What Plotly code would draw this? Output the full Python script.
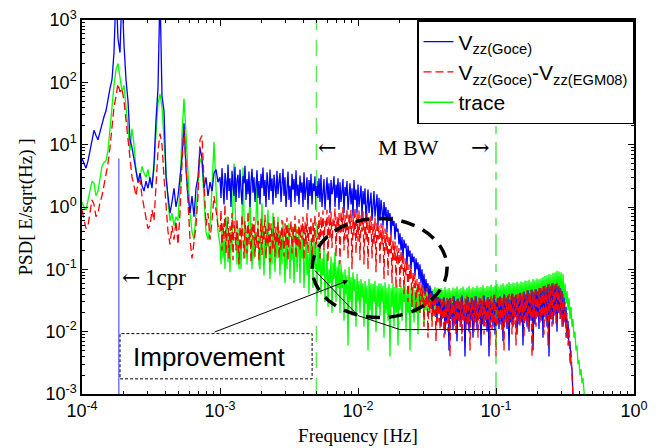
import numpy as np
import plotly.graph_objects as go

# ---------------- data (PSD samples) ----------------
# spectrum sampling: coarse bins below 1 mHz, fine bins above
LOW_START, LOW_BINS_PER_DECADE = 1e-4, 69
HIGH_START, HIGH_BINS_PER_DECADE = 1e-3, 138

# ---- V_zz(Goce) ----
vzz_goce_low = [
    6, 5, 4.2, 5.5, 8, 13, 17, 14, 12, 16,
    22, 28, 35, 55, 80, 110, 300, 3000, 500, 300,
    3000, 400, 110, 50, 12, 9, 6, 4, 2.5, 3.5,
    2.2, 1.8, 2.6, 2.0, 3, 2, 5, 25, 80, 3000,
    60, 35, 3, 1.5, 0.8, 1.2, 2, 1.0, 1.5, 3,
    6, 22, 4, 1.5, 0.8, 1.5, 0.7, 2, 3, 9,
    6, 2, 3, 1.5, 2.5, 1.8, 3.5, 4, 2.5,
]
vzz_goce_high = [
    3.0, 1.4, 4.2, 2.1, 1.1, 3.5, 2.6, 1.3, 4.8, 1.8, 2.9, 1.0, 3.8, 2.2, 1.5, 4.4, 1.2, 2.7, 3.3, 1.4,
    4.0, 1.9, 1.1, 3.1, 2.4, 4.6, 1.3, 2.8, 1.6, 3.7, 1.0, 2.5, 4.1, 1.7, 3.0, 1.2, 2.2, 3.9, 1.4, 2.6,
    1.1, 3.4, 2.0, 4.3, 1.5, 2.7, 1.0, 3.6, 2.3, 1.3, 4.0, 1.8, 2.9, 1.1, 3.3, 2.1, 1.4, 3.8, 1.6, 2.5,
    3.5, 1.2, 2.4, 4.1, 1.5, 3.0, 1.0, 2.6, 3.7, 1.3, 2.2, 1.0, 3.4, 1.9, 2.8, 1.2, 3.9, 1.5, 2.3, 1.1,
    3.2, 1.7, 2.5, 1.0, 3.6, 1.3, 2.1, 3.0, 0.9, 2.7, 1.5, 3.4, 1.1, 2.4, 1.8, 3.1, 0.9, 2.6, 1.4, 2.9,
    1.2, 3.3, 1.0, 2.2, 2.8, 0.9, 1.9, 3.0, 1.3, 2.4, 0.8, 2.7, 1.6, 2.0, 3.1, 1.0, 2.3, 1.4, 2.9, 0.9,
    2.5, 1.2, 1.8, 2.8, 0.8, 2.1, 1.5, 2.6, 0.9, 1.7, 2.4, 1.1, 2.0, 0.7, 2.7, 1.3, 1.9, 0.8, 2.3, 1.0,
    1.6, 2.2, 0.7, 1.8, 1.1, 2.0, 0.6, 1.5, 1.9, 0.8, 1.4, 1.7, 0.6, 1.3, 1.8, 0.7, 1.2, 1.6, 0.5, 1.4,
    0.6, 1.3, 0.9, 0.5, 1.2, 0.7, 1.0, 0.4, 0.9, 0.6, 0.8, 0.35, 0.7, 0.5, 0.6, 0.3, 0.55, 0.4, 0.45, 0.25,
    0.38, 0.2, 0.33, 0.15, 0.3, 0.22, 0.26, 0.12, 0.24, 0.16, 0.2, 0.1, 0.18, 0.13, 0.16, 0.08, 0.15, 0.1, 0.13, 0.07,
    0.12, 0.06, 0.1, 0.05, 0.085, 0.04, 0.07, 0.045, 0.06, 0.03, 0.055, 0.035, 0.045, 0.02, 0.04, 0.03, 0.038, 0.015, 0.036, 0.025,
    0.034, 0.012, 0.03, 0.018, 0.036, 0.009, 0.028, 0.014, 0.033, 0.005, 0.035, 0.016, 0.029, 0.011, 0.037, 0.013, 0.031, 0.007, 0.034, 0.015,
    0.03, 0.012, 0.038, 0.017, 0.027, 0.004, 0.033, 0.013, 0.036, 0.01, 0.029, 0.015, 0.035, 0.008, 0.032, 0.014, 0.037, 0.011, 0.028, 0.016,
    0.034, 0.006, 0.031, 0.013, 0.038, 0.015, 0.03, 0.01, 0.036, 0.004, 0.033, 0.014, 0.029, 0.012, 0.039, 0.009, 0.032, 0.016, 0.035, 0.011,
    0.037, 0.013, 0.031, 0.007, 0.04, 0.015, 0.034, 0.011, 0.038, 0.005, 0.033, 0.014, 0.041, 0.012, 0.036, 0.017, 0.039, 0.009, 0.034, 0.013,
    0.042, 0.014, 0.037, 0.006, 0.044, 0.016, 0.039, 0.012, 0.046, 0.01, 0.041, 0.015, 0.047, 0.005, 0.043, 0.013, 0.048, 0.017, 0.044, 0.011,
    0.05, 0.015, 0.046, 0.008, 0.054, 0.017, 0.049, 0.012, 0.057, 0.004, 0.052, 0.016, 0.06, 0.013, 0.055, 0.018, 0.058, 0.01, 0.053, 0.02,
    0.05, 0.016, 0.045, 0.012, 0.035, 0.014, 0.025, 0.008, 0.015, 0.006, 0.007, 0.003, 0.0025, 0.0009,
]

# ---- V_zz(Goce) - V_zz(EGM08) ----
vzz_diff_low = [
    0.9, 0.6, 0.45, 0.5, 0.9, 1.3, 1.1, 0.7, 0.8, 1.2,
    1.5, 2.2, 3, 5, 9, 18, 40, 60, 95, 70,
    80, 50, 25, 12, 6, 3, 2.2, 1.5, 2.5, 2.7,
    1.5, 1.0, 0.6, 0.45, 0.5, 0.9, 0.6, 2, 8, 15,
    10, 3, 1, 0.4, 0.25, 0.5, 0.3, 0.6, 0.25, 0.8,
    5, 18, 5, 1, 0.3, 0.15, 0.3, 0.5, 1.5, 12,
    14, 2, 0.5, 0.8, 0.3, 0.6, 1.5, 0.9, 0.5,
]
vzz_diff_high = [
    0.4, 0.9, 0.2, 0.55, 0.3, 1.1, 0.18, 0.45, 0.7, 0.15, 0.5, 0.25, 0.8, 0.14, 0.6, 0.35, 0.2, 0.65, 0.3, 0.12,
    0.5, 0.2, 0.75, 0.3, 0.15, 0.6, 0.4, 0.18, 0.85, 0.25, 0.45, 0.13, 0.55, 0.3, 0.7, 0.16, 0.4, 0.22, 0.6, 0.14,
    0.35, 0.65, 0.17, 0.5, 0.28, 0.75, 0.15, 0.45, 0.23, 0.6, 0.13, 0.55, 0.32, 0.2, 0.7, 0.16, 0.48, 0.26, 0.58, 0.15,
    0.42, 0.2, 0.62, 0.3, 0.16, 0.55, 0.24, 0.68, 0.14, 0.46, 0.33, 0.6, 0.18, 0.5, 0.27, 0.72, 0.15, 0.44, 0.22, 0.64,
    0.2, 0.52, 0.3, 0.7, 0.14, 0.58, 0.25, 0.8, 0.18, 0.48, 0.35, 0.66, 0.12, 0.6, 0.28, 0.75, 0.17, 0.55, 0.3, 0.82,
    0.15, 0.7, 0.35, 0.88, 0.2, 0.6, 0.45, 0.9, 0.13, 0.75, 0.3, 0.85, 0.22, 0.65, 0.5, 0.95, 0.16, 0.7, 0.38, 0.8,
    0.12, 0.85, 0.4, 1.0, 0.2, 0.75, 0.3, 0.95, 0.15, 0.8, 0.45, 0.9, 0.1, 0.7, 0.35, 0.98, 0.18, 0.8, 0.28, 0.88,
    0.14, 0.75, 0.4, 0.85, 0.12, 0.65, 0.3, 0.8, 0.1, 0.6, 0.38, 0.72, 0.15, 0.55, 0.25, 0.68, 0.09, 0.6, 0.3, 0.5,
    0.12, 0.55, 0.25, 0.5, 0.07, 0.45, 0.2, 0.42, 0.08, 0.35, 0.18, 0.38, 0.06, 0.3, 0.14, 0.28, 0.05, 0.24, 0.12, 0.22,
    0.05, 0.2, 0.1, 0.18, 0.04, 0.15, 0.08, 0.14, 0.03, 0.12, 0.07, 0.11, 0.025, 0.09, 0.05, 0.085, 0.02, 0.07, 0.04, 0.065,
    0.02, 0.06, 0.03, 0.055, 0.012, 0.045, 0.025, 0.05, 0.008, 0.04, 0.02, 0.042, 0.012, 0.036, 0.018, 0.038, 0.007, 0.034, 0.014, 0.035,
    0.011, 0.033, 0.016, 0.036, 0.008, 0.031, 0.013, 0.035, 0.01, 0.032, 0.004, 0.034, 0.015, 0.037, 0.012, 0.03, 0.009, 0.035, 0.014, 0.033,
    0.012, 0.036, 0.007, 0.031, 0.015, 0.034, 0.011, 0.038, 0.013, 0.032, 0.005, 0.035, 0.016, 0.033, 0.01, 0.037, 0.014, 0.031, 0.008, 0.036,
    0.013, 0.034, 0.016, 0.038, 0.009, 0.032, 0.012, 0.036, 0.015, 0.033, 0.006, 0.037, 0.011, 0.035, 0.014, 0.039, 0.004, 0.034, 0.013, 0.036,
    0.015, 0.038, 0.01, 0.035, 0.005, 0.039, 0.014, 0.036, 0.012, 0.04, 0.016, 0.037, 0.009, 0.041, 0.013, 0.038, 0.006, 0.04, 0.015, 0.042,
    0.012, 0.041, 0.016, 0.044, 0.008, 0.04, 0.014, 0.046, 0.011, 0.043, 0.017, 0.047, 0.004, 0.044, 0.015, 0.048, 0.012, 0.045, 0.018, 0.05,
    0.014, 0.05, 0.017, 0.053, 0.009, 0.055, 0.015, 0.052, 0.006, 0.058, 0.016, 0.056, 0.012, 0.06, 0.018, 0.057, 0.013, 0.061, 0.019, 0.055,
    0.016, 0.048, 0.012, 0.04, 0.014, 0.03, 0.008, 0.02, 0.006, 0.012, 0.003, 0.005, 0.0015, 0.0009,
]

# ---- trace ----
trace_low = [
    1.2, 1.0, 0.9, 1.3, 2.0, 2.6, 2.4, 1.5, 1.8, 3,
    4.5, 5.2, 5.5, 8, 20, 40, 90, 160, 200, 120,
    70, 90, 40, 20, 8, 18, 10, 4, 2.5, 3,
    4.5, 3.5, 3, 4, 2.5, 2.2, 4, 15, 45, 65,
    40, 12, 3, 1.2, 0.6, 0.8, 0.5, 0.7, 0.6, 2,
    15, 55, 15, 3, 0.8, 0.4, 0.3, 0.8, 2, 6,
    5, 1.2, 0.4, 0.3, 0.5, 2, 11, 2, 0.4,
]
trace_high = [
    0.25, 0.12, 0.5, 0.15, 0.3, 0.1, 0.7, 0.2, 0.13, 0.35, 0.09, 0.4, 0.2, 1.5, 5.0, 1.2, 0.3, 0.12, 0.45, 0.1,
    0.3, 0.1, 0.6, 4.3, 0.8, 0.15, 0.4, 0.12, 0.3, 0.9, 1.4, 0.3, 0.1, 0.35, 0.15, 0.5, 0.6, 2.4, 0.5, 0.12,
    0.1, 0.3, 1.15, 0.25, 0.08, 0.35, 0.15, 0.5, 0.9, 0.2, 0.07, 0.3, 0.12, 0.8, 0.25, 0.09, 0.4, 0.15, 0.7, 0.2,
    0.08, 0.35, 0.12, 0.6, 0.2, 0.06, 0.4, 0.1, 0.3, 0.55, 0.07, 0.25, 0.14, 0.45, 0.06, 0.3, 0.5, 0.09, 0.2, 0.4,
    0.06, 0.3, 0.15, 0.4, 0.05, 0.22, 0.35, 0.08, 0.18, 0.04, 0.3, 0.12, 0.25, 0.05, 0.33, 0.1, 0.2, 0.03, 0.28, 0.09,
    0.2, 0.04, 0.15, 0.08, 0.22, 0.03, 0.12, 0.18, 0.025, 0.1, 0.06, 0.16, 0.02, 0.13, 0.07, 0.19, 0.03, 0.11, 0.05, 0.14,
    0.02, 0.12, 0.05, 0.09, 0.015, 0.1, 0.04, 0.08, 0.006, 0.11, 0.03, 0.075, 0.018, 0.09, 0.045, 0.07, 0.012, 0.085, 0.03, 0.065,
    0.02, 0.07, 0.035, 0.06, 0.012, 0.065, 0.028, 0.055, 0.005, 0.07, 0.022, 0.06, 0.015, 0.058, 0.03, 0.065, 0.01, 0.055, 0.025, 0.06,
    0.018, 0.06, 0.03, 0.055, 0.008, 0.062, 0.02, 0.05, 0.015, 0.058, 0.004, 0.05, 0.025, 0.06, 0.012, 0.052, 0.02, 0.057, 0.006, 0.05,
    0.022, 0.055, 0.015, 0.05, 0.03, 0.058, 0.01, 0.048, 0.02, 0.055, 0.005, 0.05, 0.025, 0.053, 0.014, 0.047, 0.02, 0.052, 0.009, 0.05,
    0.02, 0.048, 0.025, 0.052, 0.012, 0.05, 0.022, 0.047, 0.018, 0.053, 0.024, 0.05, 0.015, 0.048, 0.021, 0.052, 0.019, 0.05, 0.026, 0.049,
    0.022, 0.05, 0.026, 0.047, 0.02, 0.052, 0.024, 0.048, 0.021, 0.05, 0.027, 0.046, 0.023, 0.051, 0.02, 0.049, 0.025, 0.053, 0.022, 0.048,
    0.024, 0.05, 0.021, 0.053, 0.026, 0.048, 0.022, 0.051, 0.025, 0.054, 0.02, 0.049, 0.027, 0.052, 0.023, 0.05, 0.026, 0.055, 0.021, 0.051,
    0.025, 0.052, 0.022, 0.056, 0.027, 0.05, 0.024, 0.054, 0.021, 0.053, 0.026, 0.057, 0.023, 0.052, 0.028, 0.055, 0.022, 0.058, 0.025, 0.053,
    0.027, 0.057, 0.023, 0.06, 0.028, 0.055, 0.025, 0.059, 0.022, 0.062, 0.029, 0.058, 0.024, 0.061, 0.027, 0.06, 0.023, 0.063, 0.028, 0.06,
    0.026, 0.064, 0.03, 0.062, 0.025, 0.066, 0.029, 0.065, 0.027, 0.068, 0.031, 0.064, 0.026, 0.07, 0.03, 0.067, 0.028, 0.071, 0.032, 0.069,
    0.03, 0.072, 0.033, 0.075, 0.028, 0.078, 0.034, 0.08, 0.031, 0.084, 0.035, 0.082, 0.03, 0.088, 0.036, 0.09, 0.033, 0.095, 0.037, 0.092,
    0.035, 0.09, 0.034, 0.085, 0.03, 0.06, 0.028, 0.045, 0.022, 0.035, 0.016, 0.025, 0.012, 0.016, 0.008, 0.01, 0.005, 0.006, 0.003, 0.0035,
    0.002, 0.0025, 0.0015, 0.0018, 0.0011, 0.0008,
]

# reference frequencies (Hz)
f_1cpr = 1.85e-4
f_mbw_low = 5e-3
f_mbw_high = 0.1

# "Improvement" guide line (Hz, PSD)
guide_f = [4.87e-3, 1e-2, 2.01e-2, 0.1]
guide_v = [0.0957, 0.0181, 0.0108, 0.0108]

x_tick_vals = [1e-4, 1e-3, 1e-2, 1e-1, 1e0]
x_tick_text = ["10<sup>-4</sup>", "10<sup>-3</sup>", "10<sup>-2</sup>", "10<sup>-1</sup>", "10<sup>0</sup>"]
y_tick_vals = [1e-3, 1e-2, 1e-1, 1e0, 1e1, 1e2, 1e3]
y_tick_text = ["10<sup>-3</sup>", "10<sup>-2</sup>", "10<sup>-1</sup>", "10<sup>0</sup>",
               "10<sup>1</sup>", "10<sup>2</sup>", "10<sup>3</sup>"]

# --------------------------------------------------------------------------
def spectrum(low, high):
    f_low = LOW_START * 10 ** (np.arange(len(low)) / LOW_BINS_PER_DECADE)
    f_high = HIGH_START * 10 ** (np.arange(len(high)) / HIGH_BINS_PER_DECADE)
    return np.concatenate([f_low, f_high]), list(low) + list(high)


SERIF = "Liberation Serif, Times New Roman, serif"
SANS = "Liberation Sans, Arial, sans-serif"

fig = go.Figure()

fx, fy = spectrum(trace_low, trace_high)
fig.add_trace(go.Scatter(x=fx, y=fy, mode="lines", name="trace", legendrank=3,
                         line=dict(color="#00FF00", width=1.3)))
fx, fy = spectrum(vzz_goce_low, vzz_goce_high)
fig.add_trace(go.Scatter(x=fx, y=fy, mode="lines", name="V<sub>zz(Goce)</sub>", legendrank=1,
                         line=dict(color="#0000FF", width=1.3)))
fx, fy = spectrum(vzz_diff_low, vzz_diff_high)
fig.add_trace(go.Scatter(x=fx, y=fy, mode="lines",
                         name="V<sub>zz(Goce)</sub>-V<sub>zz(EGM08)</sub>", legendrank=2,
                         line=dict(color="#FF0000", width=1.3, dash="8px,4px")))

# vertical reference lines
fig.add_trace(go.Scatter(x=[f_1cpr, f_1cpr], y=[1e-3, 6], mode="lines", showlegend=False,
                         hoverinfo="skip", line=dict(color="#3333FF", width=1)))
fig.add_trace(go.Scatter(x=[f_mbw_low, f_mbw_low], y=[1e-3, 1e3], mode="lines", showlegend=False,
                         hoverinfo="skip", line=dict(color="#55EE55", width=1.5, dash="16px,10px")))
fig.add_trace(go.Scatter(x=[f_mbw_high, f_mbw_high], y=[1e-3, 1e3], mode="lines", showlegend=False,
                         hoverinfo="skip", line=dict(color="#00DD00", width=1, dash="22px,8px,8px,8px")))
fig.add_trace(go.Scatter(x=guide_f, y=guide_v, mode="lines", showlegend=False,
                         hoverinfo="skip", line=dict(color="black", width=1)))

L = np.log10
annotations = [
    dict(x=L(6.0e-3), y=L(9.1), text="\u2190", showarrow=False,
         font=dict(family="DejaVu Serif", size=22, color="black")),
    dict(x=L(0.0234), y=L(9.1), text="M BW", showarrow=False,
         font=dict(family=SERIF, size=22, color="black")),
    dict(x=L(0.077), y=L(9.1), text="\u2192", showarrow=False,
         font=dict(family="DejaVu Serif", size=22, color="black")),
    dict(x=L(1.88e-4), y=L(0.0738), text="\u2190", showarrow=False, xanchor="left",
         font=dict(family="DejaVu Serif", size=22, color="black")),
    dict(x=L(2.75e-4), y=L(0.0738), text="1cpr", showarrow=False, xanchor="left",
         font=dict(family=SERIF, size=23, color="black")),
    dict(x=L(8.3e-4), y=L(3.96e-3), text="Improvement", showarrow=False,
         font=dict(family=SANS, size=26, color="black")),
    dict(x=L(8.48e-3), y=L(0.066), ax=L(8.9e-4), ay=L(0.00964), axref="x", ayref="y",
         xref="x", yref="y", text="", showarrow=True, arrowhead=2, arrowsize=1,
         arrowwidth=1, arrowcolor="black"),
]

shapes = [
    dict(type="rect", xref="x", yref="y", x0=1.886e-4, x1=4.65e-3, y0=1.75e-3, y1=9.3e-3,
         line=dict(color="black", width=1, dash="3px,2px"), fillcolor="white", layer="above"),
    dict(type="circle", xref="x", yref="y", x0=4.65e-3, x1=0.0442, y0=0.0168, y1=0.656,
         line=dict(color="black", width=3.5, dash="14px,9px"), layer="above"),
]

axis_common = dict(
    type="log", showline=True, linecolor="black", linewidth=1.5, mirror="allticks",
    ticks="inside", ticklen=6, tickwidth=1, tickcolor="black", showgrid=False,
    zeroline=False, tickmode="array", automargin=False,
    tickfont=dict(family=SANS, size=18, color="black"),
    minor=dict(ticks="inside", ticklen=3, tickcolor="black", dtick="D1", showgrid=False),
)

fig.update_layout(
    width=661, height=448,
    margin=dict(l=82, r=27, t=20, b=54),
    paper_bgcolor="white", plot_bgcolor="white",
    xaxis=dict(axis_common, range=[-4, 0], tickvals=x_tick_vals, ticktext=x_tick_text,
               title=dict(text="Frequency [Hz]", standoff=8,
                          font=dict(family=SERIF, size=19, color="black"))),
    yaxis=dict(axis_common, range=[-3, 3], tickvals=y_tick_vals, ticktext=y_tick_text,
               title=dict(text="PSD[ E/sqrt(Hz) ]", standoff=8,
                          font=dict(family=SERIF, size=19, color="black"))),
    legend=dict(x=1, y=1, xanchor="right", yanchor="top", bgcolor="white",
                bordercolor="black", borderwidth=1.5,
                font=dict(family=SANS, size=21, color="black")),
    annotations=annotations,
    shapes=shapes,
    showlegend=True,
)

fig.write_html("out.html", config={"displayModeBar": False},
               post_script="document.body.style.margin='0px';")
